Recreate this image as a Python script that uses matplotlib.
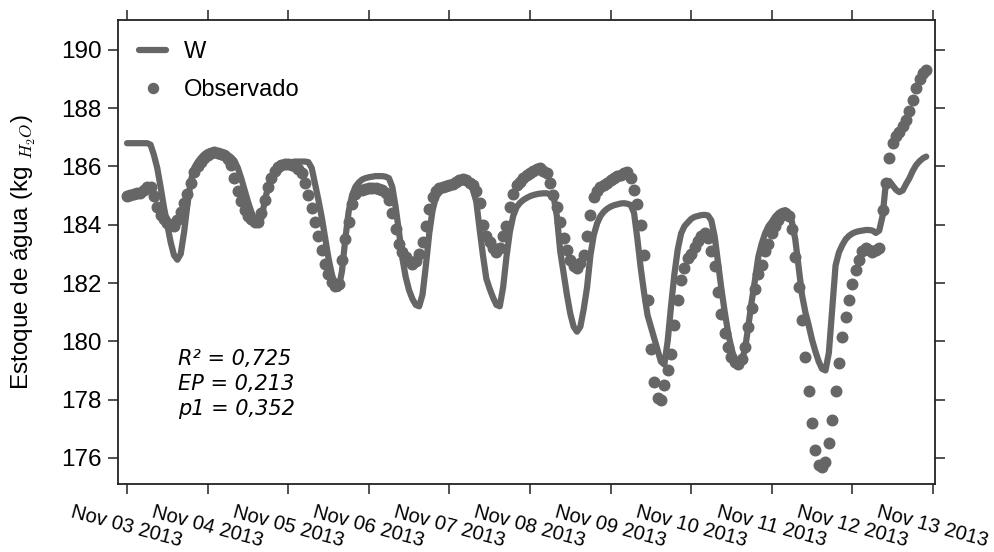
import numpy as np
import pandas as pd
import matplotlib
matplotlib.use("Agg")
import matplotlib.pyplot as plt
import matplotlib.dates as mdates

plt.rcParams['font.family'] = ['Liberation Sans', 'DejaVu Sans']
plt.rcParams['mathtext.fontset'] = 'cm'

start = "2013-11-03 00:00"

observado = [
    185.00, 185.02, 185.05, 185.08, 185.10, 185.18, 185.28, 185.30, 185.00, 184.60,
    184.35, 184.20, 184.05, 183.98, 183.95, 184.15, 184.45, 184.75, 185.05, 185.45,
    185.80, 186.00, 186.15, 186.30, 186.38, 186.45, 186.50, 186.48, 186.42, 186.38,
    186.25, 186.05, 185.60, 185.15, 184.80, 184.50, 184.30, 184.20, 184.10, 184.10,
    184.40, 184.85, 185.30, 185.60, 185.85, 185.98, 186.05, 186.10, 186.10, 186.05,
    186.00, 185.90, 185.77, 185.42, 185.02, 184.57, 184.11, 183.60, 183.15, 182.65,
    182.30, 182.05, 181.90, 181.95, 182.80, 183.50, 184.10, 184.70, 185.05, 185.20,
    185.20, 185.22, 185.25, 185.25, 185.25, 185.22, 185.20, 185.10, 184.85, 184.40,
    183.85, 183.35, 183.05, 182.90, 182.75, 182.65, 182.75, 183.00, 183.40, 183.95,
    184.55, 184.95, 185.15, 185.25, 185.28, 185.32, 185.36, 185.40, 185.48, 185.55,
    185.58, 185.55, 185.45, 185.35, 185.15, 184.75, 184.00, 183.60, 183.40, 183.20,
    183.05, 183.20, 183.60, 183.95, 184.60, 185.05, 185.35, 185.48, 185.60, 185.70,
    185.77, 185.85, 185.90, 185.94, 185.85, 185.77, 185.43, 185.02, 184.60, 184.10,
    183.55, 183.14, 182.80, 182.60, 182.50, 182.70, 182.95, 183.60, 184.35, 184.95,
    185.15, 185.30, 185.38, 185.45, 185.52, 185.60, 185.67, 185.72, 185.78, 185.82,
    185.60, 185.20, 184.70, 184.00, 182.95, 181.40, 179.75, 178.60, 178.05, 178.00,
    178.50, 179.00, 179.55, 180.55, 181.40, 182.10, 182.50, 182.85, 183.00, 183.25,
    183.45, 183.60, 183.72, 183.55, 183.10, 182.60, 181.70, 180.95, 180.30, 179.80,
    179.47, 179.30, 179.22, 179.40, 179.80, 180.50, 181.15, 181.80, 182.30, 182.62,
    183.10, 183.35, 183.70, 183.95, 184.17, 184.35, 184.42, 184.30, 183.85, 182.90,
    181.88, 180.73, 179.47, 178.28, 177.19, 176.27, 175.76, 175.70, 175.87, 176.50,
    177.30, 178.28, 179.25, 180.15, 180.85, 181.40, 181.95, 182.45, 182.80, 183.10,
    183.20, 183.15, 183.05, 183.15, 183.20, 184.50, 185.45, 186.30, 186.80, 187.05,
    187.20, 187.38, 187.60, 187.90, 188.30, 188.70, 189.00, 189.20, 189.30,
]

w_modelo = [
    186.80, 186.80, 186.80, 186.80, 186.80, 186.80, 186.80, 186.75, 186.40, 185.95,
    185.30, 184.60, 184.00, 183.40, 182.95, 182.80, 183.00, 183.75, 184.70, 185.50,
    185.95, 186.15, 186.30, 186.42, 186.50, 186.52, 186.50, 186.47, 186.40, 186.45,
    186.40, 186.32, 186.20, 185.95, 185.60, 185.20, 184.80, 184.45, 184.15, 184.00,
    184.20, 184.80, 185.30, 185.55, 185.85, 186.00, 186.05, 186.10, 186.13, 186.15,
    186.17, 186.17, 186.17, 186.17, 186.15, 185.95, 185.40, 184.85, 184.25, 183.55,
    182.85, 182.30, 181.90, 181.80, 182.40, 183.50, 184.45, 185.00, 185.30, 185.45,
    185.55, 185.60, 185.63, 185.65, 185.67, 185.67, 185.67, 185.65, 185.60, 185.30,
    184.60, 183.75, 182.85, 182.20, 181.75, 181.45, 181.25, 181.20, 181.60, 182.60,
    183.70, 184.50, 184.95, 185.10, 185.22, 185.32, 185.40, 185.46, 185.50, 185.53,
    185.55, 185.53, 185.45, 185.20, 184.80, 183.85, 182.95, 182.15, 181.80, 181.50,
    181.25, 181.20, 181.85, 182.90, 183.75, 184.30, 184.60, 184.75, 184.85, 184.92,
    184.98, 185.02, 185.05, 185.07, 185.08, 185.08, 185.05, 185.00, 184.30, 183.10,
    182.35, 181.60, 180.95, 180.50, 180.33, 180.50, 181.10, 181.85, 182.95, 183.65,
    184.05, 184.30, 184.45, 184.55, 184.62, 184.67, 184.70, 184.73, 184.74, 184.72,
    184.68, 184.40, 183.50, 182.50, 181.65, 180.90, 180.50, 180.10, 179.70, 179.30,
    179.20, 180.00, 181.20, 182.30, 183.15, 183.70, 183.95, 184.08, 184.20, 184.27,
    184.30, 184.33, 184.34, 184.32, 184.15, 183.60, 182.70, 181.80, 181.00, 180.30,
    179.75, 179.35, 179.13, 179.35, 179.70, 180.50, 181.35, 182.10, 182.90, 183.35,
    183.70, 183.95, 184.10, 184.28, 184.40, 184.47, 184.50, 184.42, 184.10, 183.50,
    182.55, 181.60, 181.00, 180.55, 180.05, 179.65, 179.30, 179.05, 179.00, 179.60,
    181.10, 182.60, 183.05, 183.30, 183.50, 183.62, 183.70, 183.75, 183.78, 183.80,
    183.82, 183.82, 183.80, 183.72, 183.80, 184.30, 185.45, 185.50, 185.35, 185.20,
    185.12, 185.18, 185.40, 185.60, 185.85, 186.05, 186.18, 186.28, 186.34,
]

y_ticks = [176, 178, 180, 182, 184, 186, 188, 190]
stats_text = "R² = 0,725\nEP = 0,213\np1 = 0,352"

times = pd.date_range(start, periods=len(observado), freq="h")
tick_days = pd.date_range("2013-11-03", "2013-11-13", freq="D")

color = "#666666"
spine_col = "#222222"

fig = plt.figure(figsize=(9.94, 5.52), dpi=100)
ax = fig.add_axes([0.1187, 0.1232, 0.8219, 0.8406])

ax.plot(times, w_modelo, color=color, lw=4.5, solid_capstyle='round',
        solid_joinstyle='round', label='W', zorder=2)
ax.plot(times, observado, linestyle='none', marker='o', ms=7.6,
        color=color, mec=color, label='Observado', zorder=3)

x0 = mdates.date2num(pd.Timestamp("2013-11-03"))
ax.set_xlim(x0 - 0.112, x0 + 10.025)
ax.set_ylim(175.1, 191.03)

ax.set_xticks(mdates.date2num(tick_days))
ax.xaxis.set_major_formatter(mdates.DateFormatter("%b %d %Y"))
ax.set_yticks(y_ticks)

ax.tick_params(axis='both', which='major', direction='out', length=7,
               width=1.1, color=spine_col, top=True, right=True)
ax.tick_params(axis='y', labelsize=17.5, pad=5)
ax.tick_params(axis='x', labelsize=14.5, pad=6)
for lbl in ax.get_xticklabels():
    lbl.set_rotation(-15)
    lbl.set_ha('center')

for sp in ax.spines.values():
    sp.set_color(spine_col)
    sp.set_linewidth(1.3)

ax.set_ylabel(r"Estoque de água (kg $_{H_2O}$)", fontsize=17.5)
ax.yaxis.set_label_coords(-0.098, 0.5)

ax.text(0.073, 0.29, stats_text, transform=ax.transAxes,
        family='DejaVu Sans', style='italic', fontsize=15,
        va='top', ha='left', linespacing=1.3)

leg = ax.legend(loc='upper left', frameon=False, fontsize=17,
                handlelength=1.15, handletextpad=0.75, labelspacing=0.68,
                borderaxespad=0.5, markerscale=0.95)

fig.savefig("out.png", dpi=100)
